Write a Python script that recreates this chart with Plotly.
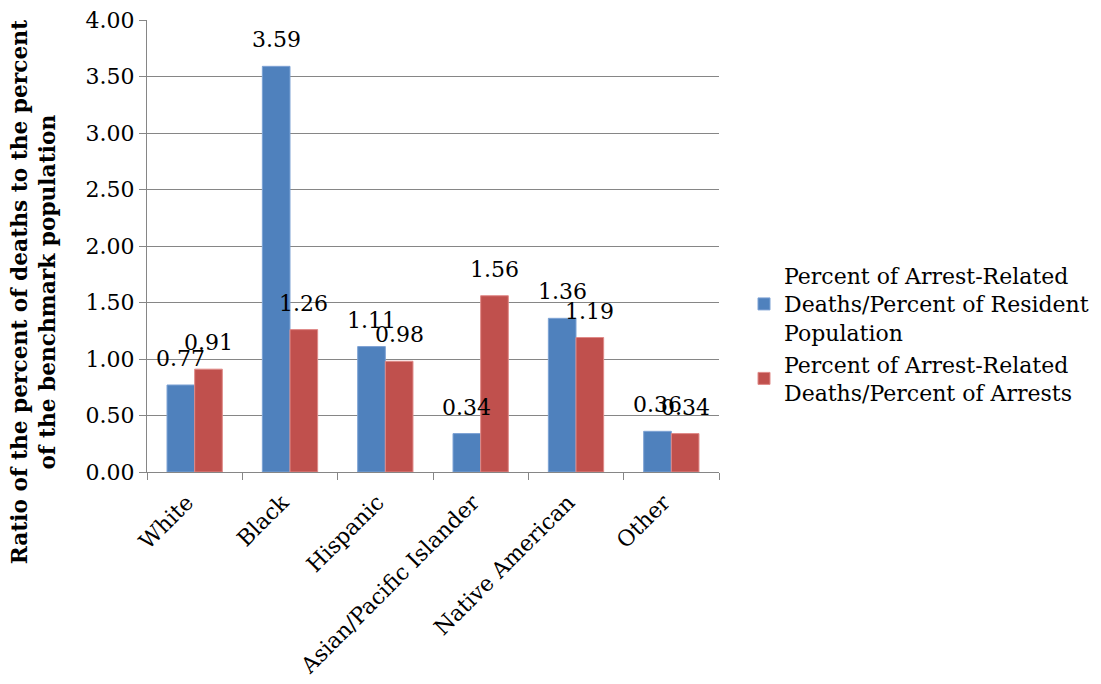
import plotly.graph_objects as go

categories = ["White", "Black", "Hispanic", "Asian/Pacific Islander", "Native American", "Other"]
resident_pop = [0.77, 3.59, 1.11, 0.34, 1.36, 0.36]
arrests = [0.91, 1.26, 0.98, 1.56, 1.19, 0.34]
series_names = [
    "Percent of Arrest-Related<br>Deaths/Percent of Resident<br>Population",
    "Percent of Arrest-Related<br>Deaths/Percent of Arrests",
]
y_ticks = [0, 0.5, 1.0, 1.5, 2.0, 2.5, 3.0, 3.5, 4.0]
y_title = "Ratio of the percent of deaths to the percent<br>of the benchmark population"

FONT = "DejaVu Serif"
BLUE = "#4F81BD"
RED = "#C0504D"
GRID = "#868686"
GAP = "\u2002"  # en space used to pad tick labels away from the axis

# layout geometry (page has an 8px body offset)
L, T, PW, PH = 139, 12, 572, 452
BARGAP = 0.42
cat_px = PW / len(categories)
bar_px = cat_px * (1 - BARGAP) / 2

fig = go.Figure()
series = [
    (resident_pop, series_names[0], BLUE, "#7DA2D4", -bar_px / 2),
    (arrests, series_names[1], RED, "#E08A88", bar_px / 2),
]
annotations = []
for vals, name, col, edge, shift in series:
    fig.add_trace(go.Bar(
        x=categories, y=vals, name=name,
        marker=dict(color=col, line=dict(color=edge, width=1)),
    ))
    for c, v in zip(categories, vals):
        annotations.append(dict(
            x=c, y=v, xref="x", yref="y", text=f"{v:.2f}", showarrow=False,
            xanchor="center", yanchor="bottom", xshift=shift, yshift=12,
            font=dict(family=FONT, size=22, color="#000000"),
        ))

annotations.append(dict(
    text=y_title, textangle=-90, showarrow=False,
    xref="paper", yref="paper", x=-0.199, y=0.398,
    xanchor="center", yanchor="middle",
    font=dict(family=FONT, size=21.7, color="#000000", weight="bold"),
    align="center",
))

fig.update_layout(
    width=1101, height=684,
    margin=dict(l=L, r=1101 - L - PW, t=T, b=684 - T - PH, autoexpand=False),
    paper_bgcolor="white", plot_bgcolor="white",
    barmode="group", bargap=BARGAP, bargroupgap=0,
    font=dict(family=FONT, size=22, color="#000000"),
    showlegend=True,
    legend=dict(
        xref="container", yref="container",
        x=736 / 1101, xanchor="left", y=1 - 326 / 684, yanchor="middle",
        font=dict(family=FONT, size=22, color="#000000"),
        bgcolor="rgba(0,0,0,0)",
    ),
    annotations=annotations,
)

fig.update_xaxes(
    type="category", tickangle=-45, automargin=False,
    tickmode="array", tickvals=categories, ticktext=[c + GAP for c in categories],
    showline=True, linecolor=GRID, linewidth=1,
    ticks="outside", tickson="boundaries", ticklen=7, tickcolor=GRID,
    showgrid=False,
    tickfont=dict(family=FONT, size=22, color="#000000"),
)
fig.update_yaxes(
    range=[0, 4.0001], tickvals=y_ticks, tickformat=".2f", ticksuffix=GAP,
    automargin=False,
    showline=True, linecolor=GRID, linewidth=1,
    ticks="outside", ticklen=7, tickcolor=GRID,
    ticklabeloverflow="allow",
    showgrid=True, gridcolor=GRID, gridwidth=1,
    zeroline=False,
    tickfont=dict(family=FONT, size=22, color="#000000"),
)

fig.write_html("out.html")
